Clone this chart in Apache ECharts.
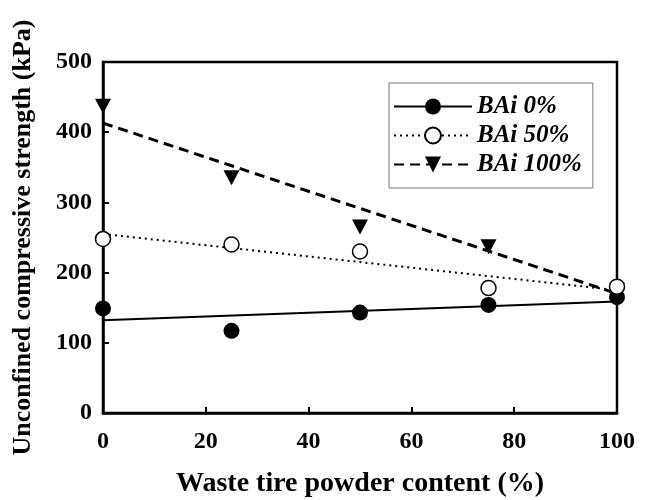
<!DOCTYPE html>
<html><head><meta charset="utf-8">
<script src="https://cdn.jsdelivr.net/npm/echarts@6/dist/echarts.min.js"></script>
<style>html,body{margin:0;padding:0;background:#fff}#c{width:650px;height:500px}</style>
</head><body><div id="c"></div>
<script>
const content = [0, 25, 50, 75, 100];
const bai0 = [149, 117, 143, 154, 165];
const bai50 = [248, 240, 230, 178, 180];
const bai100 = [437, 335, 265, 237, 175];
const trend0 = [[0, 132], [100, 159]];
const trend50 = [[0, 255], [100, 175]];
const trend100 = [[0, 413], [100, 170]];
const names = ['BAi 0%', 'BAi 50%', 'BAi 100%'];
const xTicks = [0, 20, 40, 60, 80, 100];
const yTicks = [0, 100, 200, 300, 400, 500];

const font = '"Liberation Serif", "Times New Roman", serif';
const pts = arr => content.map((x, i) => [x, arr[i]]);

const chart = echarts.init(document.getElementById('c'), null, {renderer: 'canvas'});
chart.setOption({
  animation: false,
  backgroundColor: '#fff',
  grid: {left: 103, right: 33, top: 62, bottom: 87, show: true, borderColor: '#000', borderWidth: 2.5,
         containLabel: false, outerBoundsMode: 'none'},
  legend: {
    orient: 'vertical', left: 389, top: 83,
    padding: [11, 11, 11, 4],
    borderColor: '#777', borderWidth: 1, backgroundColor: '#fff',
    itemWidth: 78, itemHeight: 20, itemGap: 4,
    data: names,
    textStyle: {fontFamily: font, fontSize: 25, fontWeight: 'bold', fontStyle: 'italic', color: '#000'}
  },
  xAxis: {
    type: 'value', min: xTicks[0], max: xTicks[xTicks.length - 1], interval: 20,
    name: 'Waste tire powder content (%)', nameLocation: 'middle', nameGap: 57,
    nameTextStyle: {fontFamily: font, fontSize: 28, fontWeight: 'bold', color: '#000'},
    axisLine: {show: true, lineStyle: {color: '#000', width: 2.5}},
    axisTick: {show: true, inside: true, length: 6, lineStyle: {color: '#000', width: 2}},
    axisLabel: {fontFamily: font, fontSize: 24, fontWeight: 'bold', color: '#000', margin: 17},
    splitLine: {show: false}
  },
  yAxis: {
    type: 'value', min: yTicks[0], max: yTicks[yTicks.length - 1], interval: 100,
    name: 'Unconfined compressive strength (kPa)', nameLocation: 'middle', nameGap: 67,
    nameTextStyle: {fontFamily: font, fontSize: 26, fontWeight: 'bold', color: '#000'},
    axisLine: {show: true, lineStyle: {color: '#000', width: 2.5}},
    axisTick: {show: true, inside: true, length: 6, lineStyle: {color: '#000', width: 2}},
    axisLabel: {fontFamily: font, fontSize: 24, fontWeight: 'bold', color: '#000', margin: 11},
    splitLine: {show: false}
  },
  series: [
    {name: names[0], type: 'line', data: trend0, showSymbol: false, symbol: 'circle', symbolSize: 16,
     itemStyle: {color: '#000'}, lineStyle: {color: '#000', width: 2, type: 'solid'}, z: 2},
    {name: names[1], type: 'line', data: trend50, showSymbol: false, symbol: 'emptyCircle', symbolSize: 15,
     itemStyle: {color: '#000', borderWidth: 1.5}, lineStyle: {color: '#000', width: 2, type: [2, 4]}, z: 2},
    {name: names[2], type: 'line', data: trend100, showSymbol: false, symbol: 'triangle', symbolRotate: 180, symbolSize: 15,
     itemStyle: {color: '#000'}, lineStyle: {color: '#000', width: 3, type: [10, 6]}, z: 2},
    {name: 'p0', type: 'scatter', data: pts(bai0), symbol: 'circle', symbolSize: 16,
     itemStyle: {color: '#000', opacity: 1}, z: 3},
    {name: 'p50', type: 'scatter', data: pts(bai50), symbol: 'circle', symbolSize: 15,
     itemStyle: {color: '#fff', borderColor: '#000', borderWidth: 1.5, opacity: 1}, z: 4},
    {name: 'p100', type: 'scatter', data: pts(bai100), symbol: 'triangle', symbolRotate: 180, symbolSize: [16, 15],
     itemStyle: {color: '#000', opacity: 1}, z: 3}
  ]
});
</script></body></html>
